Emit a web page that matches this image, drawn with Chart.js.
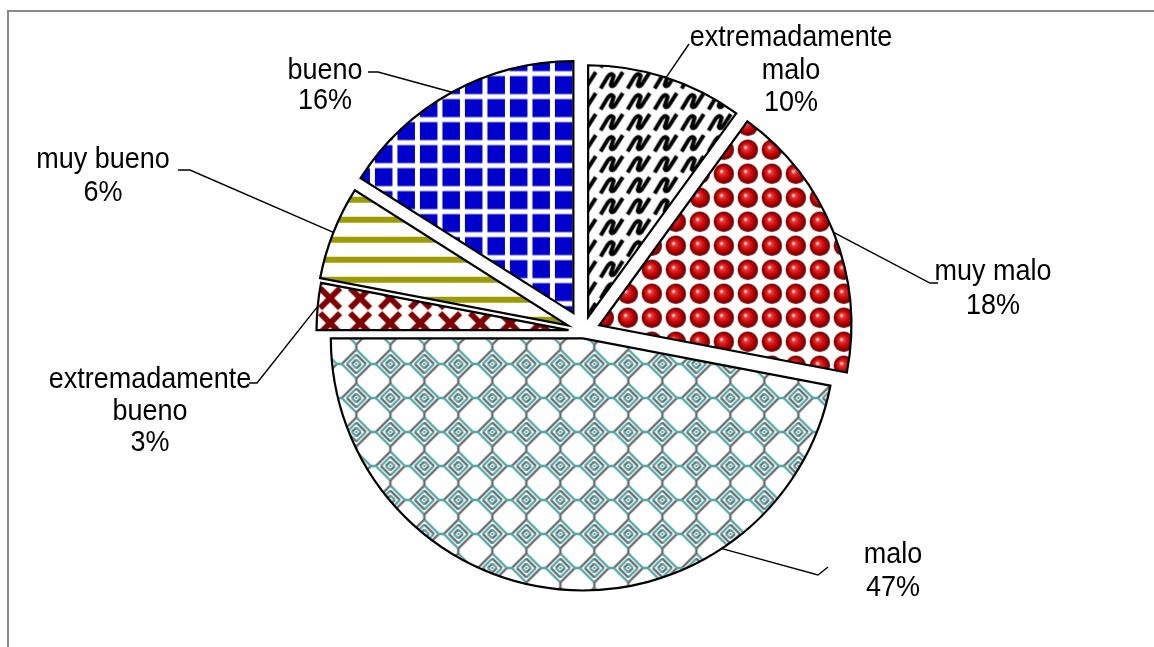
<!DOCTYPE html>
<html lang="es">
<head>
<meta charset="utf-8">
<title>Opinión</title>
<script src="https://cdn.jsdelivr.net/npm/chart.js@4.4.1/dist/chart.umd.min.js"></script>
<style>
  html, body { margin: 0; padding: 0; background: #fff; }
  canvas { display: block; }
</style>
</head>
<body>
<canvas id="chart" width="1154" height="647"></canvas>
<script>
// Categories and their shares (percent), clockwise from 12 o'clock
const categories = ['extremadamente malo', 'muy malo', 'malo', 'extremadamente bueno', 'muy bueno', 'bueno'];
const shares = [10, 18, 47, 3, 6, 16];

// ---------- pattern tiles ----------
function makeTile(w, h, paint) {
  const c = document.createElement('canvas');
  c.width = w; c.height = h;
  const g = c.getContext('2d');
  g.fillStyle = '#fff';
  g.fillRect(0, 0, w, h);
  paint(g, w, h);
  return c;
}

function shifted(ctx, tile, dx, dy) {
  const p = ctx.createPattern(tile, 'repeat');
  if (p.setTransform) p.setTransform(new DOMMatrix().translate(dx, dy));
  return p;
}

function squigglePattern(ctx) {
  const t = makeTile(27, 21, (g) => {
    g.strokeStyle = '#000';
    g.lineWidth = 4;
    g.lineJoin = 'round';
    g.lineCap = 'square';
    g.beginPath();
    g.moveTo(3, 17);
    g.lineTo(9, 7);
    g.quadraticCurveTo(13, 2, 15, 6);
    g.lineTo(12, 15);
    g.quadraticCurveTo(13, 18, 16, 15);
    g.lineTo(23, 4);
    g.stroke();
  });
  return shifted(ctx, t, 0, 0);
}

function ballPattern(ctx) {
  const t = makeTile(24, 24, (g) => {
    const grd = g.createRadialGradient(9.5, 9.5, 0.5, 12, 12, 10.3);
    grd.addColorStop(0, '#ffe0e0');
    grd.addColorStop(0.2, '#e53030');
    grd.addColorStop(0.62, '#bf0000');
    grd.addColorStop(1, '#560000');
    g.fillStyle = grd;
    g.beginPath();
    g.arc(12, 12, 10.2, 0, Math.PI * 2);
    g.fill();
  });
  return shifted(ctx, t, 0, 0);
}

function diamondPattern(ctx) {
  const teal = '#52a8a8', grey = '#6a6a6a';
  const t = makeTile(34, 34, (g) => {
    const c = 17;
    g.lineWidth = 2.4;
    const ring = (h, a, b) => {
      g.strokeStyle = a;
      g.beginPath(); g.moveTo(c - h, c); g.lineTo(c, c - h); g.stroke();
      g.beginPath(); g.moveTo(c + h, c); g.lineTo(c, c + h); g.stroke();
      g.strokeStyle = b;
      g.beginPath(); g.moveTo(c, c - h); g.lineTo(c + h, c); g.stroke();
      g.beginPath(); g.moveTo(c, c + h); g.lineTo(c - h, c); g.stroke();
    };
    ring(14.5, grey, teal);
    ring(9.5, teal, grey);
    ring(4.5, grey, teal);
    g.fillStyle = teal;
    g.fillRect(c - 1, c - 1, 2, 2);
    // joints between neighbouring diamonds
    g.strokeStyle = teal;
    g.beginPath(); g.moveTo(0, c); g.lineTo(3, c); g.moveTo(31, c); g.lineTo(34, c); g.stroke();
    g.strokeStyle = grey;
    g.beginPath(); g.moveTo(c, 0); g.lineTo(c, 3); g.moveTo(c, 31); g.lineTo(c, 34); g.stroke();
  });
  return shifted(ctx, t, 0, 0);
}

function crossPattern(ctx) {
  const t = makeTile(30, 25, (g) => {
    g.strokeStyle = '#7f0000';
    g.lineWidth = 6;
    g.lineCap = 'butt';
    g.beginPath();
    g.moveTo(5, 2.5); g.lineTo(25, 22.5);
    g.moveTo(25, 2.5); g.lineTo(5, 22.5);
    g.stroke();
  });
  return shifted(ctx, t, 0, -13);
}

function stripePattern(ctx) {
  const t = makeTile(20, 20, (g) => {
    g.fillStyle = '#9c9c00';
    g.fillRect(0, 3, 20, 6);
  });
  return shifted(ctx, t, 0, 0);
}

function gridPattern(ctx) {
  const t = makeTile(45, 46, (g) => {
    g.fillStyle = '#0000cc';
    for (let i = 0; i < 2; i++) {
      for (let j = 0; j < 2; j++) {
        g.fillRect(i * 22.5 + 2.5, j * 23 + 2.5, 17.5, 18);
      }
    }
  });
  return shifted(ctx, t, 0, 0);
}

// ---------- plugins ----------
// pulls each slice outward along its bisector
const explodePlugin = {
  id: 'explodeSlices',
  beforeDatasetDraw(chart, args, opts) {
    const ctx = chart.ctx;
    args.meta.data.forEach((arc, i) => {
      const mid = (arc.startAngle + arc.endAngle) / 2;
      const d = opts.px[i] || 0;
      ctx.save();
      ctx.translate(Math.cos(mid) * d, Math.sin(mid) * d);
      arc.draw(ctx);
      ctx.restore();
    });
    return false;
  }
};

// grey frame and white page
const framePlugin = {
  id: 'frame',
  beforeDraw(chart) {
    const ctx = chart.ctx;
    ctx.save();
    ctx.fillStyle = '#fff';
    ctx.fillRect(0, 0, chart.width, chart.height);
    ctx.strokeStyle = '#8a8a8a';
    ctx.lineWidth = 2;
    ctx.beginPath();
    ctx.moveTo(8, chart.height);
    ctx.lineTo(8, 11);
    ctx.lineTo(chart.width, 11);
    ctx.stroke();
    ctx.restore();
  }
};

// category + percentage labels with leader lines
const labelPlugin = {
  id: 'sliceLabels',
  afterDatasetsDraw(chart, args, opts) {
    const ctx = chart.ctx;
    const meta = chart.getDatasetMeta(0);
    const explode = chart.options.plugins.explodeSlices.px;
    ctx.save();
    ctx.strokeStyle = '#000';
    ctx.lineWidth = 1.4;
    meta.data.forEach((arc, i) => {
      const L = opts.layout[i];
      const mid = (arc.startAngle + arc.endAngle) / 2;
      const d = explode[i] || 0;
      const a = arc.startAngle + L.frac * (arc.endAngle - arc.startAngle);
      const ax = arc.x + Math.cos(mid) * d + Math.cos(a) * arc.outerRadius;
      const ay = arc.y + Math.sin(mid) * d + Math.sin(a) * arc.outerRadius;
      ctx.beginPath();
      ctx.moveTo(ax, ay);
      L.leader.forEach(p => ctx.lineTo(p[0], p[1]));
      ctx.stroke();

      const name = chart.data.labels[i];
      const lines = L.wrap ? name.split(' ') : [name];
      const value = chart.data.datasets[0].data[i];
      lines.push(value + '%');
      lines.forEach((txt, k) => {
        ctx.save();
        ctx.translate(L.x, L.y + k * L.step);
        ctx.scale(1, opts.stretchY);
        ctx.font = opts.font;
        ctx.fillStyle = '#000';
        ctx.textAlign = 'center';
        ctx.textBaseline = 'middle';
        ctx.fillText(txt, 0, 0);
        ctx.restore();
      });
    });
    ctx.restore();
  }
};

const ctx = document.getElementById('chart').getContext('2d');
const fills = [
  squigglePattern(ctx),
  ballPattern(ctx),
  diamondPattern(ctx),
  crossPattern(ctx),
  stripePattern(ctx),
  gridPattern(ctx)
];

new Chart(ctx, {
  type: 'pie',
  data: {
    labels: categories,
    datasets: [{
      data: shares,
      backgroundColor: fills,
      borderColor: '#000',
      borderWidth: 2.2,
      borderJoinStyle: 'miter'
    }]
  },
  options: {
    responsive: false,
    animation: false,
    radius: 252,
    layout: { padding: { left: 13, top: 16, right: 0, bottom: 0 } },
    events: [],
    plugins: {
      legend: { display: false },
      tooltip: { enabled: false },
      explodeSlices: { px: [15, 17, 7, 15, 17, 21] },
      sliceLabels: {
        font: '27px "Liberation Sans", Arial, sans-serif',
        stretchY: 1.08,
        layout: [
          { x: 791, y: 38, step: 32.5, wrap: true, frac: 0.5, leader: [[689, 44]] },
          { x: 993, y: 272, step: 34, wrap: false, frac: 0.5, leader: [[930, 283], [938, 283]] },
          { x: 893, y: 555, step: 33, wrap: false, frac: 0.27, leader: [[818, 575], [828, 567]] },
          { x: 150, y: 380, step: 31.5, wrap: true, frac: 0.5, leader: [[257, 383], [249, 383]] },
          { x: 103, y: 160, step: 33, wrap: false, frac: 0.5, leader: [[190, 170], [178, 170]] },
          { x: 325, y: 71, step: 30, wrap: false, frac: 0.5, leader: [[378, 72], [368, 72]] }
        ]
      }
    }
  },
  plugins: [framePlugin, explodePlugin, labelPlugin]
});
</script>
</body>
</html>
